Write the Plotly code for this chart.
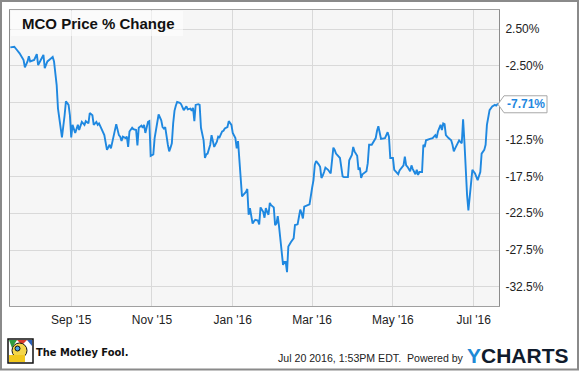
import plotly.graph_objects as go

# ---------------- data ----------------
dates = [
    "2015-07-17", "2015-07-20", "2015-07-22", "2015-07-24", "2015-07-27", "2015-07-28", "2015-07-30", "2015-07-31",
    "2015-08-01", "2015-08-02", "2015-08-04", "2015-08-06", "2015-08-07", "2015-08-09", "2015-08-11", "2015-08-12",
    "2015-08-14", "2015-08-16", "2015-08-18", "2015-08-19", "2015-08-21", "2015-08-22", "2015-08-24", "2015-08-25",
    "2015-08-27", "2015-08-28", "2015-08-30", "2015-08-31", "2015-09-01", "2015-09-02", "2015-09-04", "2015-09-05",
    "2015-09-06", "2015-09-07", "2015-09-09", "2015-09-11", "2015-09-12", "2015-09-14", "2015-09-15", "2015-09-17",
    "2015-09-18", "2015-09-20", "2015-09-21", "2015-09-22", "2015-09-24", "2015-09-26", "2015-09-28", "2015-09-30",
    "2015-10-01", "2015-10-03", "2015-10-04", "2015-10-05", "2015-10-07", "2015-10-08", "2015-10-09", "2015-10-10",
    "2015-10-12", "2015-10-13", "2015-10-14", "2015-10-15", "2015-10-17", "2015-10-18", "2015-10-20", "2015-10-21",
    "2015-10-22", "2015-10-24", "2015-10-25", "2015-10-26", "2015-10-27", "2015-10-29", "2015-10-30", "2015-10-31",
    "2015-11-01", "2015-11-02", "2015-11-03", "2015-11-05", "2015-11-06", "2015-11-08", "2015-11-09", "2015-11-10",
    "2015-11-11", "2015-11-13", "2015-11-14", "2015-11-15", "2015-11-16", "2015-11-17", "2015-11-18", "2015-11-19",
    "2015-11-20", "2015-11-22", "2015-11-23", "2015-11-25", "2015-11-26", "2015-11-27", "2015-11-28", "2015-11-30",
    "2015-12-01", "2015-12-02", "2015-12-03", "2015-12-04", "2015-12-06", "2015-12-07", "2015-12-08", "2015-12-10",
    "2015-12-11", "2015-12-12", "2015-12-13", "2015-12-15", "2015-12-16", "2015-12-17", "2015-12-18", "2015-12-20",
    "2015-12-21", "2015-12-22", "2015-12-24", "2015-12-25", "2015-12-26", "2015-12-28", "2015-12-29", "2015-12-31",
    "2016-01-01", "2016-01-03", "2016-01-04", "2016-01-05", "2016-01-06", "2016-01-07", "2016-01-08", "2016-01-10",
    "2016-01-11", "2016-01-12", "2016-01-13", "2016-01-14", "2016-01-15", "2016-01-16", "2016-01-17", "2016-01-18",
    "2016-01-20", "2016-01-21", "2016-01-22", "2016-01-24", "2016-01-25", "2016-01-26", "2016-01-27", "2016-01-28",
    "2016-01-29", "2016-01-30", "2016-02-01", "2016-02-02", "2016-02-03", "2016-02-04", "2016-02-05", "2016-02-06",
    "2016-02-08", "2016-02-09", "2016-02-10", "2016-02-11", "2016-02-12", "2016-02-14", "2016-02-16", "2016-02-17",
    "2016-02-19", "2016-02-20", "2016-02-21", "2016-02-22", "2016-02-23", "2016-02-24", "2016-02-26", "2016-02-28",
    "2016-03-01", "2016-03-02", "2016-03-03", "2016-03-04", "2016-03-06", "2016-03-07", "2016-03-08", "2016-03-09",
    "2016-03-10", "2016-03-11", "2016-03-13", "2016-03-14", "2016-03-15", "2016-03-17", "2016-03-18", "2016-03-19",
    "2016-03-21", "2016-03-22", "2016-03-24", "2016-03-25", "2016-03-27", "2016-03-28", "2016-03-29", "2016-03-31",
    "2016-04-01", "2016-04-02", "2016-04-04", "2016-04-05", "2016-04-06", "2016-04-07", "2016-04-08", "2016-04-09",
    "2016-04-11", "2016-04-12", "2016-04-13", "2016-04-15", "2016-04-16", "2016-04-18", "2016-04-19", "2016-04-20",
    "2016-04-22", "2016-04-24", "2016-04-25", "2016-04-27", "2016-04-28", "2016-04-29", "2016-05-01", "2016-05-02",
    "2016-05-05", "2016-05-06", "2016-05-09", "2016-05-10", "2016-05-11", "2016-05-12", "2016-05-14", "2016-05-15",
    "2016-05-16", "2016-05-18", "2016-05-19", "2016-05-20", "2016-05-21", "2016-05-23", "2016-05-24", "2016-05-25",
    "2016-05-26", "2016-05-29", "2016-05-31", "2016-06-02", "2016-06-03", "2016-06-04", "2016-06-05", "2016-06-06",
    "2016-06-07", "2016-06-08", "2016-06-09", "2016-06-10", "2016-06-12", "2016-06-14", "2016-06-15", "2016-06-16",
    "2016-06-17", "2016-06-19", "2016-06-20", "2016-06-22", "2016-06-23", "2016-06-24", "2016-06-25", "2016-06-26",
    "2016-06-27", "2016-06-28", "2016-06-30", "2016-07-02", "2016-07-03", "2016-07-04", "2016-07-06", "2016-07-07",
    "2016-07-09", "2016-07-10", "2016-07-11", "2016-07-13", "2016-07-15", "2016-07-17", "2016-07-18", "2016-07-19",
    "2016-07-20",
]

pct_change = [
    0.0, 0.1, -0.35, -0.8, -1.7, -2.7, -1.9, -1.2,
    -1.9, -1.8, -1.7, -0.9, -2.4, -1.7, -1.0, -2.8,
    -1.9, -1.6, -1.3, -1.9, -5.1, -8.3, -10.5, -12.2,
    -9.2, -7.3, -7.8, -9.2, -12.2, -10.5, -11.6, -10.9,
    -10.5, -11.2, -10.1, -10.5, -10.0, -10.3, -8.9, -9.2,
    -10.5, -10.1, -10.5, -10.3, -11.2, -11.9, -13.9, -13.2,
    -13.7, -11.9, -10.9, -10.4, -11.9, -12.1, -12.7, -12.1,
    -12.3, -12.1, -13.5, -11.4, -10.9, -11.1, -11.2, -13.3,
    -10.9, -10.6, -10.9, -10.5, -11.6, -10.1, -10.0, -14.7,
    -14.6, -14.5, -12.3, -10.1, -9.1, -9.9, -10.8, -11.0,
    -10.8, -13.2, -14.1, -13.6, -13.0, -10.3, -8.6, -7.9,
    -7.4, -7.5, -7.7, -8.5, -8.3, -8.0, -8.4, -8.3,
    -8.6, -8.2, -10.0, -7.8, -7.7, -7.8, -10.9, -12.6,
    -15.0, -14.5, -14.4, -13.2, -11.9, -13.0, -13.5, -12.8,
    -12.1, -12.2, -11.4, -11.3, -11.0, -10.8, -10.0, -10.5,
    -11.6, -12.3, -13.7, -12.7, -15.3, -18.0, -20.2, -19.8,
    -19.6, -19.2, -22.7, -21.8, -22.9, -23.9, -23.6, -23.4,
    -23.5, -24.0, -21.7, -22.3, -23.1, -21.8, -22.3, -22.7,
    -21.1, -21.4, -21.7, -24.1, -23.9, -22.9, -24.3, -26.4,
    -29.5, -29.1, -29.1, -30.5, -27.0, -26.4, -25.9, -24.1,
    -24.0, -23.0, -22.0, -22.5, -23.2, -21.6, -21.4, -21.3,
    -19.0, -18.0, -15.9, -15.4, -15.9, -16.2, -17.7, -17.4,
    -16.9, -16.3, -16.6, -16.8, -17.1, -13.6, -13.9, -14.4,
    -14.8, -15.0, -17.5, -17.6, -17.6, -17.6, -15.3, -14.6,
    -13.5, -14.1, -14.7, -16.6, -16.3, -17.7, -17.2, -17.1,
    -16.8, -15.7, -13.2, -13.2, -12.9, -12.3, -11.3, -10.7,
    -12.4, -12.3, -12.3, -11.5, -12.1, -15.0, -15.0, -16.6,
    -17.2, -16.7, -16.0, -14.8, -16.0, -16.2, -16.8, -16.0,
    -16.5, -17.2, -16.6, -17.3, -16.9, -16.9, -13.2, -13.5,
    -12.6, -12.4, -12.3, -11.9, -12.3, -11.4, -10.8, -10.5,
    -11.2, -10.3, -10.4, -11.9, -12.3, -12.6, -13.2, -14.1,
    -13.7, -12.8, -12.6, -13.0, -9.75, -12.8, -17.3, -20.0,
    -22.1, -20.0, -16.6, -17.1, -17.7, -18.0, -16.9, -14.4,
    -13.9, -13.2, -10.5, -8.5, -8.0, -7.8, -7.9, -7.7,
    -7.71,
]

y_tick_values = [2.5, -2.5, -7.5, -12.5, -17.5, -22.5, -27.5, -32.5]
y_tick_labels = ["2.50%", "-2.50%", "", "-12.5%", "-17.5%", "-22.5%", "-27.5%", "-32.5%"]

title_text = "MCO Price % Change"
footer_text = "Jul 20 2016, 1:53PM EDT.  Powered by"

# ---------------- layout helpers ----------------
W, H = 580, 371
L, R, T, B = 10, 81, 10, 65
PW, PH = W - L - R, H - T - B
Y_RANGE = [-35.08, 5.08]
X_RANGE = ["2015-07-16 18:00", "2016-07-20 03:00"]


def px(x):
    return (x - L) / PW


def py(y):
    return (H - B - y) / PH


LINE_COLOR = "#1f88e0"
FONT = "Liberation Sans, Arial, sans-serif"

fig = go.Figure()
fig.add_trace(go.Scatter(
    x=dates, y=pct_change, mode="lines",
    line=dict(color=LINE_COLOR, width=1.9),
    hoverinfo="skip", showlegend=False,
))

last_val = pct_change[-1]
last_paper_y = (last_val - Y_RANGE[0]) / (Y_RANGE[1] - Y_RANGE[0])

shapes = [
    # outer border
    dict(type="rect", xref="paper", yref="paper", x0=px(1), x1=px(578), y0=py(1), y1=py(369.5),
         line=dict(color="#8a8a8a", width=2), fillcolor="rgba(0,0,0,0)", layer="above"),
    # title box
    dict(type="rect", xref="paper", yref="paper", x0=px(11), x1=px(183), y0=py(11), y1=py(36),
         line=dict(width=0), fillcolor="rgba(255,255,255,0.55)", layer="above"),
    # callout box with pointer
    dict(type="path", xref="paper", yref="paper", xsizemode="pixel", ysizemode="pixel",
         xanchor=1, yanchor=last_paper_y,
         path="M -1,0 L 5,8.5 L 48,8.5 L 48,-8.5 L 5,-8.5 Z",
         line=dict(color="#a8a8a8", width=1), fillcolor="white", layer="above"),
    # jester logo (simplified)
    dict(type="rect", xref="paper", yref="paper", x0=px(8), x1=px(33), y0=py(339), y1=py(363),
         line=dict(color="#111", width=1.5), fillcolor="white", layer="above"),
    dict(type="path", xref="paper", yref="paper",
         path=f"M {px(9)},{py(340)} L {px(17)},{py(340)} L {px(12)},{py(348)} Z",
         line=dict(width=0), fillcolor="#2e9b3e", layer="above"),
    dict(type="path", xref="paper", yref="paper",
         path=f"M {px(17)},{py(340)} L {px(27)},{py(340)} L {px(22)},{py(345)} Z",
         line=dict(width=0), fillcolor="#d93a2b", layer="above"),
    dict(type="path", xref="paper", yref="paper",
         path=f"M {px(27)},{py(340)} L {px(32)},{py(340)} L {px(32)},{py(346)} Z",
         line=dict(width=0), fillcolor="#2a5fb8", layer="above"),
    dict(type="circle", xref="paper", yref="paper", x0=px(12), x1=px(27), y0=py(343), y1=py(358),
         line=dict(color="#111", width=1), fillcolor="#f4d64a", layer="above"),
    dict(type="rect", xref="paper", yref="paper", x0=px(9), x1=px(25), y0=py(355), y1=py(362),
         line=dict(width=0), fillcolor="#f2c81e", layer="above"),
    dict(type="circle", xref="paper", yref="paper", x0=px(15), x1=px(20), y0=py(346), y1=py(351),
         line=dict(color="#111", width=1), fillcolor="#4aa0e0", layer="above"),
]

annotations = [
    dict(text=title_text, xref="paper", yref="paper", x=px(20), y=py(23.5), xanchor="left", yanchor="middle",
         showarrow=False, font=dict(family=FONT, size=15, color="#111111", weight="bold")),
    dict(text=f"{last_val:.2f}%", xref="paper", yref="paper", x=1, xshift=26.5, y=last_paper_y,
         xanchor="center", yanchor="middle", showarrow=False,
         font=dict(family=FONT, size=12, color=LINE_COLOR, weight="bold")),
    dict(text="The Motley Fool.", xref="paper", yref="paper", x=px(34), y=py(352), xanchor="left",
         yanchor="middle", showarrow=False,
         font=dict(family="Liberation Sans Narrow, DejaVu Sans Condensed, Arial Narrow, Liberation Sans, sans-serif",
                   size=11, color="#111111", weight="bold")),
    dict(text=footer_text, xref="paper", yref="paper", x=px(466), y=py(357.5), xanchor="right",
         yanchor="middle", showarrow=False, font=dict(family=FONT, size=10.6, color="#222222")),
    dict(text="<span style='color:#1f8ad6'>Y</span>CHARTS", xref="paper", yref="paper", x=px(465),
         y=py(355.5), xanchor="left", yanchor="middle", showarrow=False,
         font=dict(family=FONT, size=21, color="#101b2c", weight="bold")),
]

fig.update_layout(
    width=W, height=H,
    margin=dict(l=L, r=R, t=T, b=B, pad=0),
    paper_bgcolor="white",
    plot_bgcolor="#f6f6f6",
    font=dict(family=FONT, size=12, color="#222222"),
    showlegend=False,
    shapes=shapes,
    annotations=annotations,
    xaxis=dict(
        type="date", range=X_RANGE, tick0="2015-09-01", dtick="M2", tickformat="%b '%y",
        showgrid=True, gridcolor="#d9d9d9", gridwidth=1,
        showline=True, linecolor="#a0a0a0", linewidth=1, mirror=True,
        ticks="outside", ticklen=3, tickcolor="rgba(0,0,0,0)",
        tickfont=dict(family=FONT, size=12, color="#222222"),
        zeroline=False, fixedrange=True,
    ),
    yaxis=dict(
        range=Y_RANGE, side="right", tickmode="array", tickvals=y_tick_values, ticktext=y_tick_labels,
        showgrid=True, gridcolor="#d9d9d9", gridwidth=1,
        showline=True, linecolor="#8c8c8c", linewidth=1, mirror=True,
        ticks="outside", ticklen=3, tickcolor="rgba(0,0,0,0)",
        tickfont=dict(family=FONT, size=12, color="#222222"),
        zeroline=False, fixedrange=True,
    ),
)

fig.write_html(
    "out.html",
    config={"displayModeBar": False},
    post_script="document.body.style.margin='0px';document.body.style.overflow='hidden';",
)
